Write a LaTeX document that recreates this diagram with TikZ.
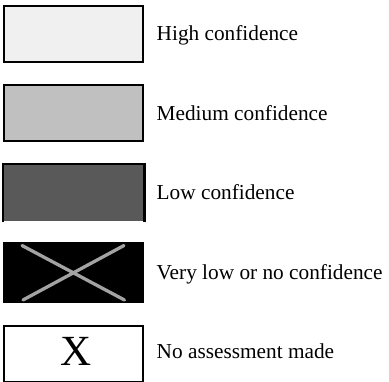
\documentclass[tikz,border=0pt]{standalone}
\usepackage{fontspec}
\setmainfont{Liberation Serif}
\usepackage{tikz}
\definecolor{highconf}{HTML}{F0F0F0}
\definecolor{medconf}{HTML}{C0C0C0}
\definecolor{lowconf}{HTML}{595959}
\definecolor{crossgray}{HTML}{A3A3A3}

\begin{document}
\begin{tikzpicture}[x=1pt,y=-1pt,
    keybox/.style={rectangle,minimum width=139pt,minimum height=56pt,inner sep=0pt,line width=2.3pt},
    keytext/.style={anchor=base west,inner sep=0pt,font=\fontsize{21.3}{25}\selectfont}]
  \clip (0,0) rectangle (389,381);
  \useasboundingbox (0,0) rectangle (389,381);
  \node[keybox,draw,fill=highconf] (b1) at (73.8,34) {};
  \node[keybox,draw,fill=medconf] (b2) at (73.8,113.3) {};
  \node[keybox,fill=lowconf] (b3) at (73.8,193) {};
  \draw[line width=2.3pt] (b3.south west) -- (b3.north west) -- (b3.north east) -- (b3.south east);
  \node[keybox,fill=black,minimum width=141.3pt,minimum height=61.6pt] (b4) at (73.8,272.5) {};
  \coordinate (c1) at (22,245.5);
  \coordinate (c2) at (124.5,300);
  \coordinate (c3) at (124,245.5);
  \coordinate (c4) at (23,300);
  \draw[crossgray,line width=3.3pt,line cap=round] (c1) -- (c2);
  \draw[crossgray,line width=3.3pt,line cap=round] (c3) -- (c4);
  \node[keybox,draw,fill=white] (b5) at (73.8,354) {};
  \node[anchor=base,inner sep=0pt,font=\fontsize{43}{48}\selectfont] (x5) at (76.5,365) {X};
  \node[keytext] (t1) at (156.5,40.5) {High confidence};
  \node[keytext] (t2) at (156.5,120) {Medium confidence};
  \node[keytext] (t3) at (156.5,199.5) {Low confidence};
  \node[keytext] (t4) at (156.5,279.3) {Very low or no confidence};
  \node[keytext] (t5) at (156.5,358.5) {No assessment made};
\end{tikzpicture}
\end{document}
